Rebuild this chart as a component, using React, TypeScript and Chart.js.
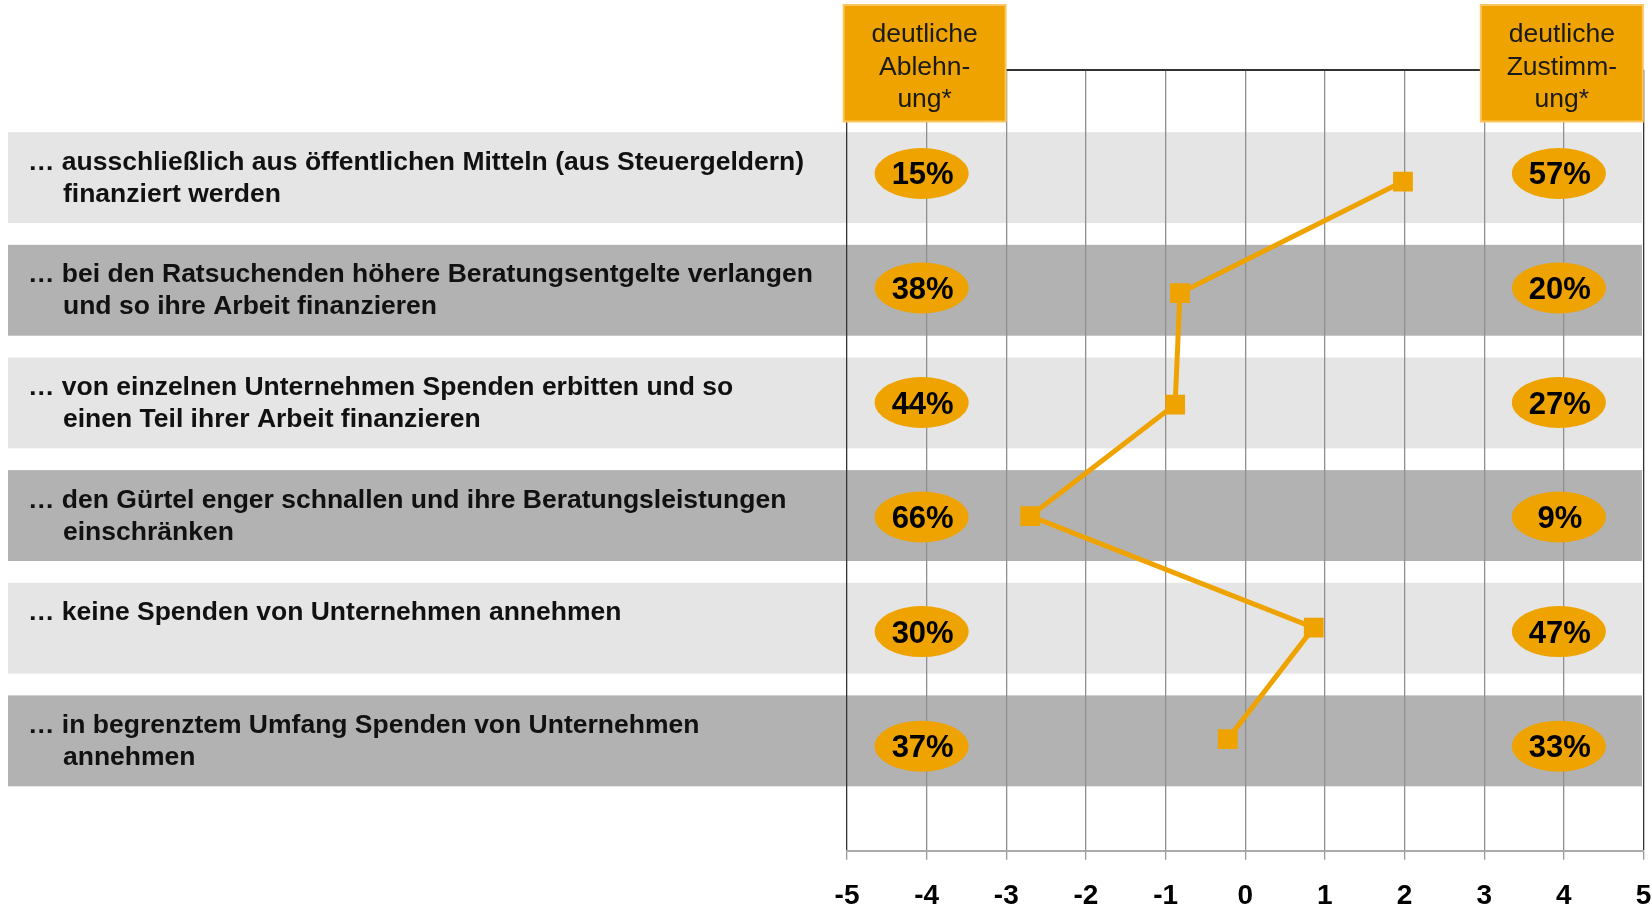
import React, { useEffect, useRef } from "react";
import { Chart, registerables } from "chart.js";

Chart.register(...registerables);

// ---- data ----
const statements: string[][] = [
  ["… ausschließlich aus öffentlichen Mitteln (aus Steuergeldern)", "finanziert werden"],
  ["… bei den Ratsuchenden höhere Beratungsentgelte verlangen", "und so ihre Arbeit finanzieren"],
  ["… von einzelnen Unternehmen Spenden erbitten und so", "einen Teil ihrer Arbeit finanzieren"],
  ["… den Gürtel enger schnallen und ihre Beratungsleistungen", "einschränken"],
  ["… keine Spenden von Unternehmen annehmen"],
  ["… in begrenztem Umfang Spenden von Unternehmen", "annehmen"],
];
const rowPositions = [1, 2, 3, 4, 5, 6];
const meanValues = [1.98, -0.82, -0.88, -2.7, 0.86, -0.22];
const rejectShares = [15, 38, 44, 66, 30, 37];
const agreeShares = [57, 20, 27, 9, 47, 33];
const rowShades = ["light", "dark", "light", "dark", "light", "dark"];
const xTicks = [-5, -4, -3, -2, -1, 0, 1, 2, 3, 4, 5];
const rejectColumn = -4;
const agreeColumn = 4;
const headerLeft = ["deutliche", "Ablehn-", "ung*"];
const headerRight = ["deutliche", "Zustimm-", "ung*"];

// ---- styles ----
const FONT = "'Liberation Sans', Arial, Helvetica, sans-serif";
const ORANGE = "#EFA300";
const BAND_LIGHT = "#E5E5E5";
const BAND_DARK = "#B2B2B2";
const RIGHT_GAP = 8.5;

const decorPlugin = {
  id: "decor",
  afterLayout(chart: any) {
    // keep the plot reaching close to the right edge (tick-label overflow padding removed)
    const xs = chart.scales.x;
    const target = chart.width - RIGHT_GAP;
    chart.chartArea.right = target;
    chart.chartArea.width = target - chart.chartArea.left;
    xs.right = target;
    xs.width = target - xs.left;
    xs.configure();
  },
  beforeDraw(chart: any) {
    const { ctx, scales } = chart;
    const ys = scales.y;
    const unit = Math.abs(ys.getPixelForValue(1) - ys.getPixelForValue(0));
    ctx.save();
    rowPositions.forEach((r, i) => {
      const cy = ys.getPixelForValue(r + (r - 3.5) * 0.01 - 0.01);
      const h = 0.815 * unit;
      ctx.fillStyle = rowShades[i] === "light" ? BAND_LIGHT : BAND_DARK;
      ctx.fillRect(8, cy - h / 2, 1642 - 8, h);
      ctx.fillStyle = "#111";
      ctx.font = `bold 26.5px ${FONT}`;
      ctx.textAlign = "left";
      ctx.textBaseline = "alphabetic";
      const lines = statements[i];
      ctx.fillText(lines[0], 28, cy - 8);
      if (lines[1]) ctx.fillText(lines[1], 63, cy + 24);
    });
    ctx.restore();
  },
  afterDatasetsDraw(chart: any) {
    const { ctx, scales, chartArea } = chart;
    const xs = scales.x;
    const ys = scales.y;
    ctx.save();
    ctx.strokeStyle = "#333";
    ctx.lineWidth = 2;
    ctx.beginPath();
    ctx.moveTo(chartArea.left, chartArea.top);
    ctx.lineTo(chartArea.right, chartArea.top);
    ctx.stroke();
    rowPositions.forEach((r, i) => {
      const cy = ys.getPixelForValue(r + (r - 3.5) * 0.027 - 0.005);
      const pairs: [number, number][] = [
        [rejectColumn, rejectShares[i]],
        [agreeColumn, agreeShares[i]],
      ];
      pairs.forEach(([col, val]) => {
        const cx = xs.getPixelForValue(col) - 5;
        ctx.fillStyle = ORANGE;
        ctx.beginPath();
        ctx.ellipse(cx, cy, 47, 25.5, 0, 0, Math.PI * 2);
        ctx.fill();
        ctx.fillStyle = "#000";
        ctx.font = `bold 31px ${FONT}`;
        ctx.textAlign = "center";
        ctx.textBaseline = "alphabetic";
        ctx.fillText(`${val}%`, cx + 1, cy + 11);
      });
    });
    ctx.restore();
  },
  afterDraw(chart: any) {
    const { ctx, scales } = chart;
    const xs = scales.x;
    ctx.save();
    const boxes: [number, string[]][] = [
      [rejectColumn, headerLeft],
      [agreeColumn, headerRight],
    ];
    boxes.forEach(([col, lines]) => {
      const cx = xs.getPixelForValue(col) - 2;
      const w = 162;
      const top = 5;
      const h = 116.5;
      ctx.fillStyle = ORANGE;
      ctx.fillRect(cx - w / 2, top, w, h);
      ctx.strokeStyle = "#FBC660";
      ctx.lineWidth = 2;
      ctx.strokeRect(cx - w / 2, top, w, h);
      ctx.fillStyle = "#1a1a1a";
      ctx.font = `26.5px ${FONT}`;
      ctx.textAlign = "center";
      ctx.textBaseline = "alphabetic";
      lines.forEach((t, k) => ctx.fillText(t, cx, 42 + k * 32.5));
    });
    ctx.restore();
  },
};

export default function App() {
  const ref = useRef<HTMLCanvasElement | null>(null);
  useEffect(() => {
    if (!ref.current) return;
    const chart = new Chart(ref.current, {
      type: "scatter",
      data: {
        datasets: [
          {
            data: meanValues.map((v, i) => ({ x: v, y: rowPositions[i] })),
            showLine: true,
            borderColor: ORANGE,
            borderWidth: 5,
            backgroundColor: ORANGE,
            pointStyle: "rect",
            pointRadius: 14,
            pointBorderWidth: 0,
            pointBackgroundColor: ORANGE,
          },
        ],
      },
      options: {
        responsive: false,
        animation: false,
        devicePixelRatio: 1,
        layout: { padding: { left: 847, right: RIGHT_GAP, top: 70, bottom: 0 } },
        plugins: { legend: { display: false }, tooltip: { enabled: false } },
        scales: {
          x: {
            type: "linear",
            min: -5,
            max: 5,
            position: "bottom",
            afterBuildTicks: (s: any) => {
              s.ticks = xTicks.map((v) => ({ value: v }));
            },
            afterFit: (s: any) => {
              s.height = 57.3;
              s.paddingLeft = 0;
              s.paddingRight = 0;
            },
            ticks: {
              color: "#000",
              padding: 20,
              font: { family: FONT, size: 28, weight: "bold" },
              callback: (v: any) => String(v),
            },
            grid: {
              color: (c: any) =>
                c.tick && (c.tick.value === -5 || c.tick.value === 5) ? "#333" : "#8f8f8f",
              lineWidth: 1.3,
              tickLength: 9,
              tickColor: "#999",
            },
            border: { color: "#aaa", width: 2 },
          },
          y: { type: "linear", min: 0, max: 7, reverse: true, display: false },
        },
      } as any,
      plugins: [decorPlugin],
    });
    return () => chart.destroy();
  }, []);
  return (
    <canvas
      ref={ref}
      width={1652}
      height={908}
      style={{ position: "fixed", left: 0, top: 0, width: 1652, height: 908 }}
    />
  );
}
